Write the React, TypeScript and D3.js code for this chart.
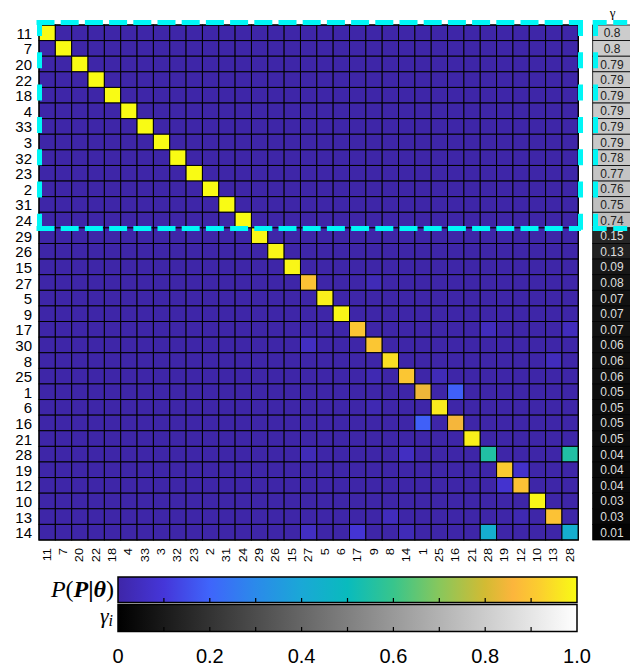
import React from "react";
import * as d3 from "d3";

const rowLabels = ["11","7","20","22","18","4","33","3","32","23","2","31","24","29","26","15","27","5","9","17","30","8","25","1","6","16","21","28","19","12","10","13","14"];
const colLabels = ["11","7","20","22","18","4","33","3","32","23","2","31","24","29","26","15","27","5","6","17","9","8","14","1","25","16","21","28","19","12","10","13","28"];
const gammaValues = [0.8,0.8,0.79,0.79,0.79,0.79,0.79,0.79,0.78,0.77,0.76,0.75,0.74,0.15,0.13,0.09,0.08,0.07,0.07,0.07,0.06,0.06,0.06,0.05,0.05,0.05,0.05,0.04,0.04,0.04,0.03,0.03,0.01];
const diagonalValues = [1,1,1,1,1,1,1,1,1,1,1,1,1,0.99,0.99,0.99,0.89,0.98,0.99,0.9,0.9,0.95,0.9,0.84,0.97,0.85,0.98,0.55,0.91,0.89,0.99,0.89,0.43];
const offRows = [16,19,19,20,21,22,22,23,24,25,27,27,27,28,29,31,31,32,32,32,32];
const offCols = [20,27,32,16,31,20,24,25,20,23,16,22,32,29,28,21,29,16,19,22,27];
const offValues = [0.03,0.04,0.04,0.05,0.04,0.02,0.03,0.19,0.02,0.19,0.03,0.05,0.55,0.07,0.08,0.04,0.02,0.05,0.09,0.03,0.43];
const colorStops = [0,0.1,0.2,0.3,0.4,0.5,0.6,0.7,0.8,0.86,0.92,1];
const colorHex = ["#3e26a8","#4536d9","#3f65fb","#2b8aea","#1aa8d6","#09bbbd","#38c58c","#88c75c","#d3bb33","#fcb53c","#fbcf2e","#f9fb14"];
const barTicks = [0,0.2,0.4,0.6,0.8,1.0];
const minorTicks = [0.1,0.2,0.3,0.4,0.5,0.6,0.7,0.8,0.9];

const GX0 = 39, GX1 = 578.3, GY0 = 25, GY1 = 540;
const CB_X0 = 118, CB_X1 = 577;

export default function App() {
  const x = d3.scaleBand<number>().domain(d3.range(colLabels.length)).range([GX0, GX1]);
  const y = d3.scaleBand<number>().domain(d3.range(rowLabels.length)).range([GY0, GY1]);
  const cmap = d3.scaleLinear<string>().domain(colorStops).range(colorHex).interpolate(d3.interpolateRgb).clamp(true);
  const gray = (v: number) => d3.interpolateRgb("#000000", "#ffffff")(v);
  const cb = d3.scaleLinear().domain([0, 1]).range([CB_X0, CB_X1]);

  const matrix: number[][] = rowLabels.map((_, r) => colLabels.map((_, c) => (r === c ? diagonalValues[r] : 0)));
  offRows.forEach((r, i) => { matrix[r][offCols[i]] = offValues[i]; });

  const cells: React.ReactNode[] = [];
  matrix.forEach((row, r) => row.forEach((v, c) => {
    cells.push(<rect key={`c${r}-${c}`} x={x(c)} y={y(r)} width={x.bandwidth()} height={y.bandwidth()} fill={cmap(v)} stroke="#000" strokeWidth={1} />);
  }));

  const gx0 = 592.7, gx1 = 640;
  const topSplit = 13;
  const rectTop = 22.5, rectBot = y(topSplit)! + 0.5;
  const cyan = "#00f6f6";
  const hDash = "18,6.2";
  const vDash = "16,16.3";

  return (
    <svg width={630} height={670} style={{ position: "absolute", left: 0, top: 0, display: "block" }} fontFamily="'Liberation Sans', Arial, sans-serif">
      <rect x={0} y={0} width={630} height={670} fill="#fff" />
      <defs>
        <linearGradient id="parula" x1="0" x2="1" y1="0" y2="0">
          {colorStops.map((s, i) => <stop key={i} offset={s} stopColor={colorHex[i]} />)}
        </linearGradient>
        <linearGradient id="grayg" x1="0" x2="1" y1="0" y2="0">
          <stop offset={0} stopColor={gray(0)} />
          <stop offset={1} stopColor={gray(1)} />
        </linearGradient>
      </defs>
      {cells}
      <rect x={GX0} y={GY0} width={GX1 - GX0} height={GY1 - GY0} fill="none" stroke="#000" strokeWidth={1.2} />
      {rowLabels.map((l, r) => (
        <text key={`rl${r}`} x={32} y={y(r)! + y.bandwidth() / 2 + 0.5} textAnchor="end" dominantBaseline="central" fontSize={15} fill="#000">{l}</text>
      ))}
      {colLabels.map((l, c) => (
        <text key={`cl${c}`} transform={`translate(${x(c)! + x.bandwidth() / 2},548) rotate(-90) scale(1,0.8)`} textAnchor="end" dominantBaseline="central" fontSize={12.8} fill="#000">{l}</text>
      ))}
      {gammaValues.map((g, r) => (
        <g key={`g${r}`}>
          <rect x={gx0} y={y(r)} width={gx1 - gx0} height={y.bandwidth()} fill={gray(g)} stroke="#000" strokeWidth={0.8} />
          <text x={612} y={y(r)! + y.bandwidth() / 2 + 0.5} textAnchor="middle" dominantBaseline="central" fontSize={12} fill={g > 0.5 ? "#222" : "#dedede"}>{String(g)}</text>
        </g>
      ))}
      <text x={612.5} y={17} textAnchor="middle" fontFamily="'Liberation Serif', 'DejaVu Serif', serif" fontSize={13} fill="#000">γ</text>
      {/* dashed highlight boxes */}
      <g stroke={cyan} strokeWidth={5} fill="none">
        <line x1={36.5} x2={581} y1={rectTop} y2={rectTop} strokeDasharray={hDash} />
        <line x1={36.5} x2={581} y1={rectBot} y2={rectBot} strokeDasharray={hDash} />
        <line x1={39.5} x2={39.5} y1={20} y2={rectBot + 2.5} strokeDasharray={vDash} />
        <line x1={580.5} x2={580.5} y1={20} y2={rectBot + 2.5} strokeDasharray={vDash} />
        <line x1={592.7} x2={640} y1={rectTop} y2={rectTop} strokeDasharray="14,6.5" />
        <line x1={592.7} x2={640} y1={rectBot} y2={rectBot} strokeDasharray="14,6.5" />
        <line x1={595.5} x2={595.5} y1={20} y2={rectBot + 2.5} strokeDasharray={vDash} />
      </g>
      {/* colorbars */}
      <rect x={CB_X0} y={577} width={CB_X1 - CB_X0} height={25.5} fill="url(#parula)" stroke="#000" strokeWidth={1.5} />
      <rect x={CB_X0} y={604.5} width={CB_X1 - CB_X0} height={27} fill="url(#grayg)" stroke="#000" strokeWidth={1.5} />
      {minorTicks.map((t, i) => (
        <g key={`mt${i}`} stroke="#000" strokeWidth={1.2}>
          <line x1={cb(t)} x2={cb(t)} y1={598} y2={602.5} />
          <line x1={cb(t)} x2={cb(t)} y1={627} y2={631.5} />
        </g>
      ))}
      {barTicks.map((t, i) => (
        <text key={`bt${i}`} x={cb(t)} y={663} textAnchor="middle" fontSize={20} fill="#000">{t === 0 ? "0" : t.toFixed(1)}</text>
      ))}
      <text x={114} y={597} textAnchor="end" fontFamily="'Liberation Serif', 'DejaVu Serif', serif" fontSize={24} fill="#000">
        <tspan fontStyle="italic">P</tspan>
        <tspan>(</tspan>
        <tspan fontStyle="italic" fontWeight="bold">P</tspan>
        <tspan fontWeight="bold">|</tspan>
        <tspan fontStyle="italic" fontWeight="bold">θ</tspan>
        <tspan>)</tspan>
      </text>
      <text x={113} y={623} textAnchor="end" fontFamily="'Liberation Serif', 'DejaVu Serif', serif" fontSize={22} fontStyle="italic" fill="#000">
        <tspan>γ</tspan>
        <tspan fontSize={16} dy={3}>i</tspan>
      </text>
    </svg>
  );
}
